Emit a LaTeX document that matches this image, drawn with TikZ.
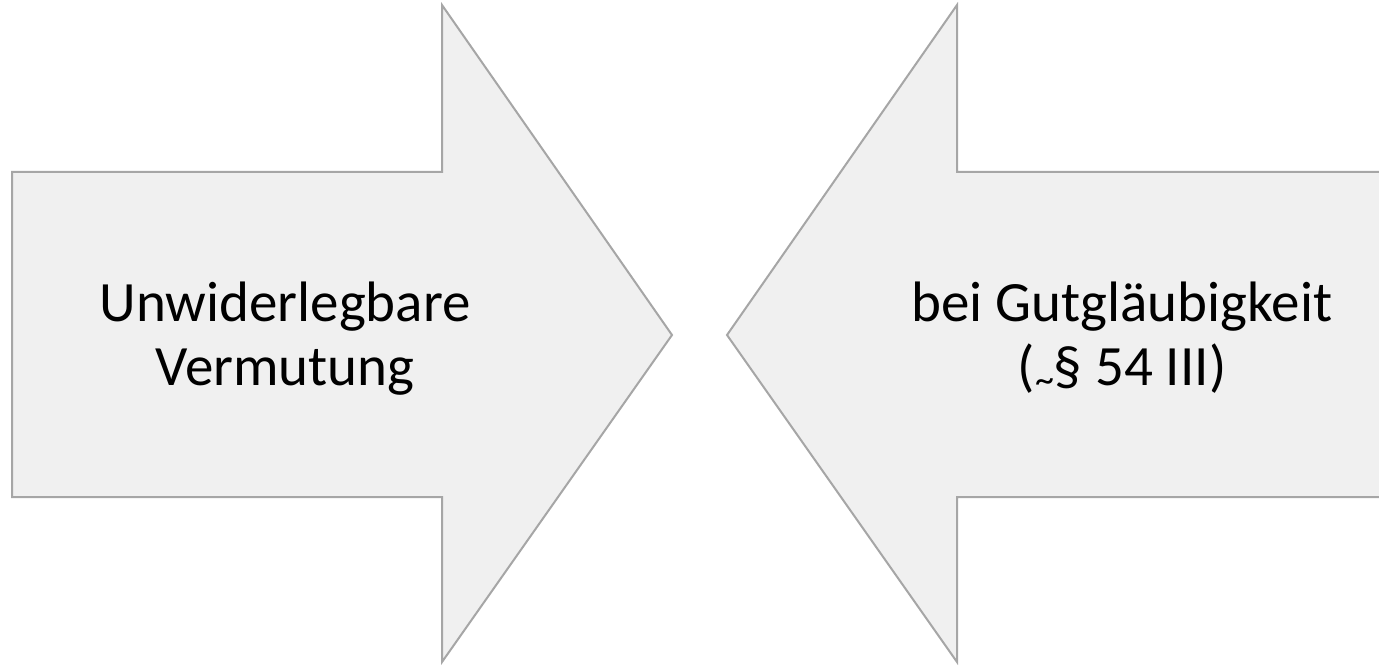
\documentclass[tikz,border=0pt]{standalone}
\usepackage{fontspec}
\setmainfont{Carlito}
\usepackage{tikz}
\definecolor{arrow-fill}{RGB}{240,240,240}
\definecolor{arrow-line}{RGB}{166,166,166}
\tikzstyle{bigarrow}=[fill=arrow-fill, draw=arrow-line, line width=2pt, line join=miter]
\tikzstyle{label}=[align=center, inner sep=0pt, font=\fontsize{57}{64}\selectfont]
\tikzstyle{pixels}=[x=1pt, y=-1pt]

\begin{document}
\begin{tikzpicture}[pixels]
	\useasboundingbox (0,0) rectangle (1379,666);
	\clip (0,0) rectangle (1379,666);
	\filldraw[bigarrow] (12,172)--(442,172)--(442,5)--(672,335)--(442,662)--(442,497)--(12,497)--cycle;
	\filldraw[bigarrow] (1383,172)--(957,172)--(957,5)--(727,335)--(957,662)--(957,497)--(1383,497)--cycle;
	\node[label, anchor=base] (vermutung) at (285,385) {Unwiderlegbare\\Vermutung};
	\node[label, anchor=base] (gutglaeubig) at (1122,385) {bei Gutgläubigkeit\\(\raisebox{-7pt}{\fontsize{38}{38}\selectfont\textasciitilde}§ 54 III)};
\end{tikzpicture}
\end{document}
